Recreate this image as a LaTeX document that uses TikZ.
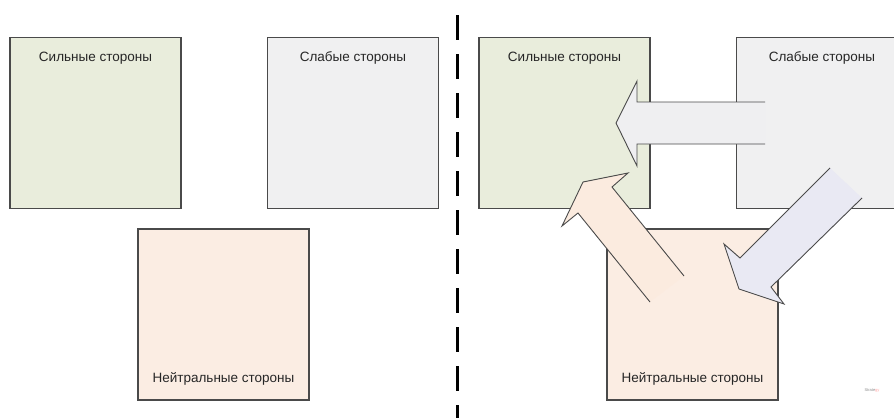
\documentclass[tikz,border=0pt]{standalone}
\usepackage{fontspec}
\setmainfont{Liberation Sans}
\usetikzlibrary{positioning}

\definecolor{boxline}{HTML}{4A4A4A}
\definecolor{strongfill}{HTML}{E9EDDC}
\definecolor{weakfill}{HTML}{F0F0F1}
\definecolor{neutralfill}{HTML}{FBEDE3}
\definecolor{movegray}{HTML}{EFEFF1}
\definecolor{movepeach}{HTML}{FBEBDF}
\definecolor{movelav}{HTML}{E9E9F3}

\begin{document}
\begin{tikzpicture}[x=1pt,y=-1pt,
    side/.style={draw=boxline,line width=1.5pt,minimum size=171pt,inner sep=0pt},
    sidetext/.style={font=\fontsize{13.5}{16}\selectfont,text=black!85,inner sep=0pt,anchor=center},
    move/.style={draw=boxline,line width=0.9pt,line join=miter}]
    \useasboundingbox[fill=white] (0,0) rectangle (894,418);
    %% left half
    \node[side,fill=strongfill] (sL) at (95.5,123) {} ;
    \node[side,fill=weakfill] (wL) [right=85pt of sL] {} ;
    \node[side,fill=neutralfill] (nL) at (223.5,314.5) {} ;
    \node[sidetext] (sLt) at ([yshift=-21pt]sL.north) {Сильные стороны} ;
    \node[sidetext] (wLt) at ([yshift=-21pt]wL.north) {Слабые стороны} ;
    \node[sidetext] (nLt) at ([yshift=22pt]nL.south) {Нейтральные стороны} ;
    %% divider
    \coordinate (top) at (457,15) ;
    \coordinate (bottom) at (457,418) ;
    \draw[line width=3pt,dash pattern=on 25pt off 14pt] (top) -- (bottom) ;
    %% right half
    \node[side,fill=strongfill] (sR) at (564.5,123) {} ;
    \node[side,fill=weakfill] (wR) [right=85pt of sR] {} ;
    \node[side,fill=neutralfill] (nR) at (692.5,314.5) {} ;
    \node[sidetext] (sRt) at ([yshift=-21pt]sR.north) {Сильные стороны} ;
    \node[sidetext] (wRt) at ([yshift=-21pt]wR.north) {Слабые стороны} ;
    \node[sidetext] (nRt) at ([yshift=22pt]nR.south) {Нейтральные стороны} ;
    %% weak -> strong
    \fill[movegray] (765,102) -- (637,102) -- (637,81) -- (616,123) -- (637,166) -- (637,144) -- (765,144) -- cycle ;
    \draw[move] (765,102) -- (637,102) -- (637,81) -- (616,123) -- (637,166) -- (637,144) -- (765,144) ;
    %% neutral -> strong
    \fill[movepeach] (684,276) -- (612,187) -- (628,173) -- (583,182) -- (562,226) -- (578,213) -- (650,302) -- cycle ;
    \draw[move] (684,276) -- (612,187) -- (628,173) -- (583,182) -- (562,226) -- (578,213) -- (650,302) ;
    %% weak -> neutral
    \fill[movelav] (830,168) -- (740,258) -- (724,244) -- (739,289) -- (784,304) -- (771,287) -- (862,198) -- cycle ;
    \draw[move] (830,168) -- (740,258) -- (724,244) -- (739,289) -- (784,304) -- (771,287) -- (862,198) ;
    %% watermark
    \node[font=\fontsize{4}{5}\selectfont,text=black!45,inner sep=0pt] (mark) at (872,391) {Strate\textcolor{red!35}{gy}} ;
\end{tikzpicture}
\end{document}
